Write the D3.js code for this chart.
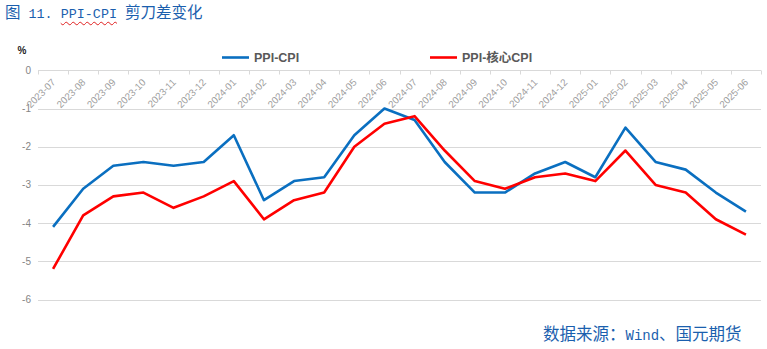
<!DOCTYPE html>
<html>
<head>
<meta charset="utf-8">
<script src="https://cdn.jsdelivr.net/npm/d3@7"></script>
<style>
  html, body { margin: 0; padding: 0; background: #fff; }
  #wrap { position: relative; width: 767px; height: 349px; overflow: hidden; }
  .cap { position: absolute; color: #1b5fae; white-space: nowrap; font-family: "Noto Sans CJK SC", sans-serif; }
  .cap .m { font-family: "Liberation Mono", "DejaVu Sans Mono", monospace; }
  .wavy { text-decoration: underline wavy #e02020; text-decoration-thickness: 1px; text-underline-offset: 3px; }
  svg { position: absolute; left: 0; top: 0; }
</style>
</head>
<body>
<div id="wrap">
  <div class="cap" id="title" style="left:5px; top:0px; font-size:15.5px; line-height:22px;">图<span class="m" style="font-size:13.4px"> 11. <span class="wavy">PPI-CPI</span> </span>剪刀差变化</div>
  <div class="cap" id="source" style="left:543px; top:322px; font-size:16.5px; line-height:22px;">数据来源：<span class="m" style="font-size:14px">Wind</span>、国元期货</div>
</div>
<script>
// Monthly categories
const months = [
  "2023-07","2023-08","2023-09","2023-10","2023-11","2023-12",
  "2024-01","2024-02","2024-03","2024-04","2024-05","2024-06",
  "2024-07","2024-08","2024-09","2024-10","2024-11","2024-12",
  "2025-01","2025-02","2025-03","2025-04","2025-05","2025-06"
];
// PPI minus CPI, %
const ppiCpi = [
  -4.1, -3.1, -2.5, -2.4, -2.5, -2.4,
  -1.7, -3.4, -2.9, -2.8, -1.7, -1.0,
  -1.3, -2.4, -3.2, -3.2, -2.7, -2.4,
  -2.8, -1.5, -2.4, -2.6, -3.2, -3.7
];
// PPI minus core CPI, %
const ppiCoreCpi = [
  -5.2, -3.8, -3.3, -3.2, -3.6, -3.3,
  -2.9, -3.9, -3.4, -3.2, -2.0, -1.4,
  -1.2, -2.1, -2.9, -3.1, -2.8, -2.7,
  -2.9, -2.1, -3.0, -3.2, -3.9, -4.3
];
const yTicks = [0, -1, -2, -3, -4, -5, -6];
const seriesNames = ["PPI-CPI", "PPI-核心CPI"];
const seriesColors = ["#0a6fc0", "#ff0000"];

const W = 767, H = 349;
const svg = d3.select("#wrap").append("svg").attr("width", W).attr("height", H);

const x = d3.scaleBand().domain(months).range([38, 761]);
const y = d3.scaleLinear().domain([-6, 0]).range([299.5, 70.3]);

// horizontal gridlines
svg.append("g").selectAll("line").data(yTicks.filter(d => d !== 0)).join("line")
  .attr("x1", 38).attr("x2", 761)
  .attr("y1", d => Math.round(y(d)) + 0.5).attr("y2", d => Math.round(y(d)) + 0.5)
  .attr("stroke", "#d9d9d9").attr("stroke-width", 1);

// y axis labels
svg.append("g").selectAll("text").data(yTicks).join("text")
  .attr("x", 31).attr("y", d => y(d))
  .attr("dy", "0.35em")
  .attr("text-anchor", "end")
  .attr("font-family", "Liberation Sans, Arial, sans-serif")
  .attr("font-size", 10)
  .attr("fill", "#858585")
  .text(d => d);

// zero line as category axis with tick marks at band edges
const xAxis = d3.axisBottom(x).tickSize(0).tickFormat("");
const gx = svg.append("g").attr("transform", `translate(0,${Math.round(y(0)) + 0.5})`).call(xAxis);
gx.select(".domain").attr("stroke", "#d9d9d9").attr("d", "M38,0H761");
gx.selectAll(".tick").remove();
const edges = months.map(m => x(m)).concat([x.range()[1]]);
gx.selectAll("line.edge").data(edges).join("line")
  .attr("class", "edge")
  .attr("x1", d => Math.round(d) + 0.5).attr("x2", d => Math.round(d) + 0.5)
  .attr("y1", 0).attr("y2", 4)
  .attr("stroke", "#d9d9d9");

// rotated month labels
svg.append("g").selectAll("text").data(months).join("text")
  .attr("transform", d => `translate(${x(d) + x.bandwidth() / 2 + 3},${83}) rotate(-45)`)
  .attr("text-anchor", "end")
  .attr("font-family", "Liberation Sans, Arial, sans-serif")
  .attr("font-size", 9.8)
  .attr("fill", "#9d9d9d")
  .text(d => d);

// series lines
const line = d3.line()
  .x((d, i) => x(months[i]) + x.bandwidth() / 2)
  .y(d => y(d));
[ppiCpi, ppiCoreCpi].forEach((vals, k) => {
  svg.append("path")
    .datum(vals)
    .attr("d", line)
    .attr("fill", "none")
    .attr("stroke", seriesColors[k])
    .attr("stroke-width", 2.6)
    .attr("stroke-linejoin", "round");
});

// unit label
svg.append("text")
  .attr("x", 22).attr("y", 54)
  .attr("text-anchor", "middle")
  .attr("font-family", "Liberation Sans, Arial, sans-serif")
  .attr("font-size", 10).attr("font-weight", "bold")
  .attr("fill", "#222")
  .text("%");

// legend
const legendX = [222, 430];
const lg = svg.append("g").selectAll("g").data(seriesNames).join("g")
  .attr("transform", (d, i) => `translate(${legendX[i]},57.5)`);
lg.append("line").attr("x1", 0).attr("x2", 27).attr("y1", 0).attr("y2", 0)
  .attr("stroke", (d, i) => seriesColors[i]).attr("stroke-width", 2.6);
lg.append("text").attr("x", 32).attr("y", 0).attr("dy", "0.36em")
  .attr("font-family", "Liberation Sans, Arial, 'Noto Sans CJK SC', sans-serif")
  .attr("font-size", 12.5).attr("font-weight", "bold")
  .attr("fill", "#595959")
  .text(d => d);
</script>
</body>
</html>
